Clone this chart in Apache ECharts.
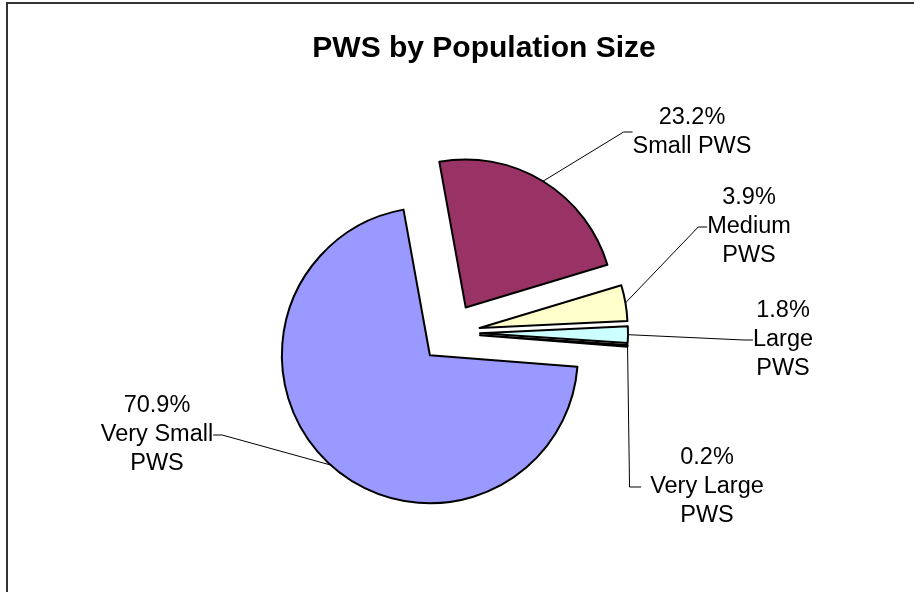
<!DOCTYPE html>
<html><head><meta charset="utf-8">
<script src="https://cdn.jsdelivr.net/npm/echarts@6/dist/echarts.min.js"></script>
<style>html,body{margin:0;padding:0;background:#fff}#c{width:914px;height:592px}</style>
</head><body><div id="c"></div>
<script>
// Data
const categories = ['Very Small\nPWS', 'Small PWS', 'Medium\nPWS', 'Large\nPWS', 'Very Large\nPWS'];
const shares = [70.9, 23.2, 3.9, 1.8, 0.2];
const sliceColors = ['#9999FF', '#993366', '#FFFFCC', '#CCFFFF', '#660066'];
// Layout only: label anchor positions, leader style, pie geometry
const labelCenters = [[157, 435], [692, 132], [749, 227], [783, 340], [707, 487]];
const leaderStyle = ['auto', 'auto', 'auto', 'auto', 'vertical'];
const PIE_CENTER = [450, 333];
const PIE_RADIUS = 148;
const EXPLODE = 30;
const FIRST_ANGLE = -4.5; // ECharts degrees (ccw from 3 o'clock), clockwise drawing

const FONT = 'Liberation Sans, Arial, sans-serif';
const total = shares.reduce((a, b) => a + b, 0);
let cum = 0;
const series = shares.map((v, i) => {
  const start = FIRST_ANGLE - cum / total * 360;
  const mid = (start - v / total * 180) * Math.PI / 180;
  cum += v;
  const center = [PIE_CENTER[0] + EXPLODE * Math.cos(mid), PIE_CENTER[1] - EXPLODE * Math.sin(mid)];
  return {
    type: 'pie',
    center: center,
    radius: PIE_RADIUS,
    startAngle: start,
    clockwise: true,
    avoidLabelOverlap: false,
    minAngle: 0,
    silent: true,
    data: [
      { name: categories[i], value: v, itemStyle: { color: sliceColors[i], borderColor: '#000', borderWidth: 2 } },
      { name: '', value: total - v, itemStyle: { color: 'rgba(0,0,0,0)', borderWidth: 0 }, label: { show: false }, labelLine: { show: false } }
    ],
    label: {
      show: true, position: 'outside',
      formatter: p => p.value.toFixed(1) + '%\n' + p.name,
      fontFamily: FONT, fontSize: 23.5, lineHeight: 29, color: '#000'
    },
    labelLine: { show: true, length: 10, length2: 9, minTurnAngle: 0, lineStyle: { color: '#000', width: 1 } },
    labelLayout: p => {
      if (p.dataIndex !== 0) return {};
      const [lx, ly] = labelCenters[i];
      const res = { x: lx, y: ly, align: 'center', verticalAlign: 'middle', hideOverlap: false };
      if (leaderStyle[i] === 'vertical' && p.labelLinePoints) {
        const p0 = p.labelLinePoints[0];
        const left = lx - p.labelRect.width / 2;
        res.labelLinePoints = [[p0[0], p0[1]], [p0[0] + 2, ly], [left - 9, ly]];
      }
      return res;
    },
    emphasis: { disabled: true }
  };
});

const chart = echarts.init(document.getElementById('c'), null, { renderer: 'canvas' });
chart.setOption({
  animation: false,
  backgroundColor: '#ffffff',
  title: {
    text: 'PWS by Population Size',
    left: 479, top: 29, textAlign: 'center',
    textStyle: { fontFamily: FONT, fontSize: 30, fontWeight: 'bold', color: '#000' }
  },
  graphic: [{
    type: 'rect', silent: true, z: -1,
    shape: { x: 7, y: 3, width: 1000, height: 700 },
    style: { fill: 'none', stroke: '#333', lineWidth: 2 }
  }],
  series: series
});
</script></body></html>
